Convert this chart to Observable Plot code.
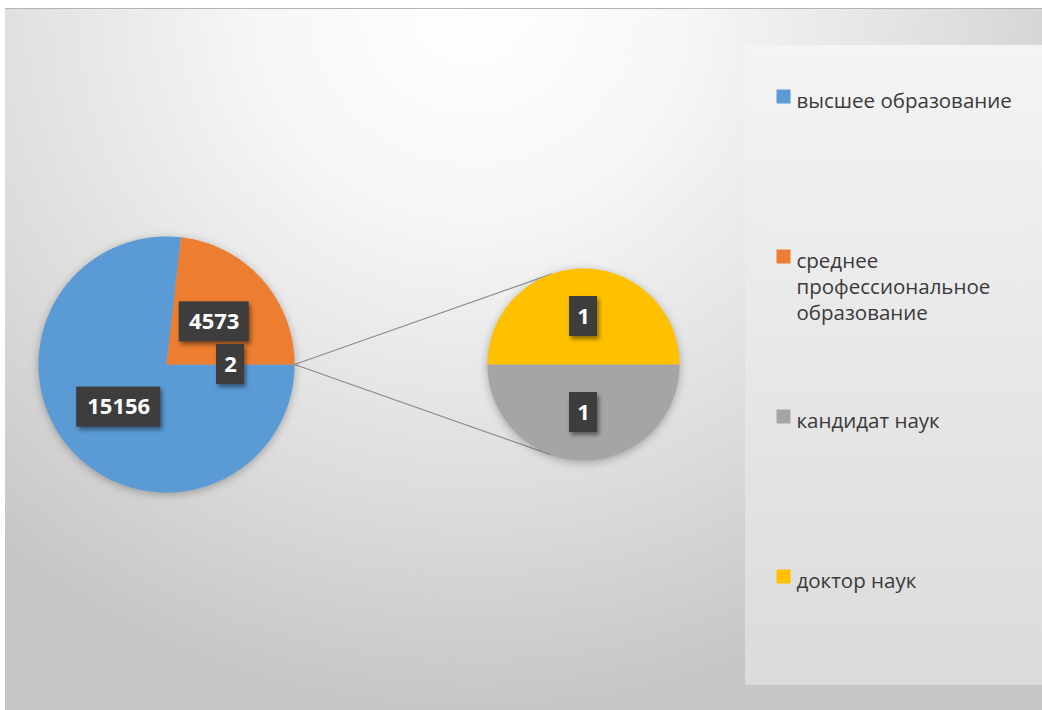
<!DOCTYPE html>
<html><head><meta charset="utf-8">
<script src="https://cdn.jsdelivr.net/npm/d3@7"></script>
<script src="https://cdn.jsdelivr.net/npm/@observablehq/plot@0.6"></script>
<style>
body{margin:0;background:#fff;width:1042px;height:710px;overflow:hidden;position:relative;font-family:"Open Sans",sans-serif}
#bg{position:absolute;left:5px;top:8px;width:1037px;height:702px;background:radial-gradient(ellipse 70% 100% at 45% 0%, #ffffff 0%, #f6f6f6 30%, #dcdcdc 70%, #c6c6c6 100%);border-top:1px solid #b4b4b4;}
#legendbox{position:absolute;left:745px;top:45px;width:297px;height:640px;background:linear-gradient(180deg,#f4f4f4 0%,#e6e6e6 55%,#dbdbdb 100%);}
#chart{position:absolute;left:0;top:0}
#chart svg{background:transparent}
#chart g[aria-label="line"]{filter:drop-shadow(0px 2px 4px rgba(0,0,0,0.28))}
#chart g[aria-label="rect"]{filter:drop-shadow(2px 3px 2px rgba(0,0,0,0.45))}
</style></head>
<body>
<div id="bg"></div>
<div id="legendbox"></div>
<div id="chart"></div>
<script>
// ---- data ----
const categories = ["высшее образование", "среднее профессиональное образование", "кандидат наук", "доктор наук"];
const values = [15156, 4573, 1, 1];
const colors = ["#5b9bd5", "#ed7d31", "#a5a5a5", "#ffc000"];
const legendLabels = ["высшее образование", "среднее\nпрофессиональное\nобразование", "кандидат наук", "доктор наук"];
const otherName = "другие";
const otherColor = "#a5a5a5";

// ---- layout ----
const W = 1042, H = 710;
const mainPie = {cx: 166, cy: 364, r: 128};
const secPie = {cx: 583, cy: 364, r: 96};
const rad = Math.PI / 180;
const pt = (p, a, r) => [p.cx + r * Math.sin(a * rad), p.cy - r * Math.cos(a * rad)];

const secItems = [{name: categories[2], value: values[2]}, {name: categories[3], value: values[3]}];
const otherValue = d3.sum(secItems, d => d.value);
const mainItems = [{name: otherName, value: otherValue}, {name: categories[0], value: values[0]}, {name: categories[1], value: values[1]}];

function slices(items, p, start, prefix) {
  const total = d3.sum(items, d => d.value);
  let a = start;
  return items.map((it, i) => {
    const span = it.value / total * 360;
    const s = {name: it.name, value: it.value, a0: a, a1: a + span, p: p, key: prefix + i};
    a += span;
    return s;
  });
}
const mainTotal = d3.sum(mainItems, d => d.value);
const otherSpan = otherValue / mainTotal * 360;
const mainSlices = slices(mainItems, mainPie, 90 - otherSpan / 2, "m");
const secSlices = slices(secItems, secPie, 90, "s");
const allSlices = mainSlices.concat(secSlices);

const polyPts = [];
for (const s of allSlices) {
  polyPts.push({key: s.key, name: s.name, x: s.p.cx, y: s.p.cy});
  const n = Math.max(2, Math.ceil(s.a1 - s.a0));
  for (let k = 0; k <= n; k++) {
    const a = s.a0 + (s.a1 - s.a0) * k / n;
    const q = pt(s.p, a, s.p.r);
    polyPts.push({key: s.key, name: s.name, x: q[0], y: q[1]});
  }
}

const labels = allSlices.map(s => {
  const q = pt(s.p, (s.a0 + s.a1) / 2, s.p.r / 2);
  const t = String(s.value);
  const w = 14 * t.length + 14;
  return {x: q[0], y: q[1], text: t, x1: q[0] - w / 2, x2: q[0] + w / 2, y1: q[1] - 20, y2: q[1] + 20};
});

// tangent connectors from the "other" slice to the secondary pie
const otherSlice = mainSlices[0];
const P0 = pt(mainPie, otherSlice.a0, mainPie.r), P1 = pt(mainPie, otherSlice.a1, mainPie.r);
function tangent(P, sign) {
  const dx = P[0] - secPie.cx, dy = P[1] - secPie.cy;
  const d = Math.hypot(dx, dy);
  const ang = Math.atan2(dy, dx) + sign * Math.acos(secPie.r / d);
  return [secPie.cx + secPie.r * Math.cos(ang), secPie.cy + secPie.r * Math.sin(ang)];
}
const T0 = tangent(P0, 1), T1 = tangent(P1, -1);
const connectors = [
  {x1: P0[0], y1: P0[1], x2: T0[0], y2: T0[1]},
  {x1: P1[0], y1: P1[1], x2: T1[0], y2: T1[1]}
];

const legend = categories.map((c, i) => ({name: c, label: legendLabels[i], y: 97 + i * 160}));

const chart = Plot.plot({
  width: W, height: H, margin: 0,
  style: {background: "transparent"},
  x: {type: "identity", axis: null},
  y: {type: "identity", axis: null},
  color: {domain: [...categories, otherName], range: [...colors, otherColor]},
  marks: [
    Plot.link(connectors, {x1: "x1", y1: "y1", x2: "x2", y2: "y2", stroke: "#8c8c8c", strokeWidth: 1.2}),
    Plot.line(polyPts, {x: "x", y: "y", z: "key", fill: "name", stroke: "none", curve: "linear-closed"}),
    Plot.rect(labels, {x1: "x1", x2: "x2", y1: "y1", y2: "y2", fill: "#3d3d3d"}),
    Plot.text(labels, {x: "x", y: "y", text: "text", fill: "white", fontWeight: "bold", fontSize: 22, fontFamily: "Open Sans"}),
    Plot.dot(legend, {x: 783, y: d => d.y - 1, symbol: "square", r: 7.9, fill: "name", stroke: "none"}),
    Plot.text(legend, {x: 796, y: "y", text: "label", textAnchor: "start", lineAnchor: "top", dy: -8.4, lineHeight: 1.27, fill: "#3a3a3a", fontSize: 20.5, fontFamily: "Open Sans"})
  ]
});
document.getElementById("chart").appendChild(chart);
</script>
</body></html>
